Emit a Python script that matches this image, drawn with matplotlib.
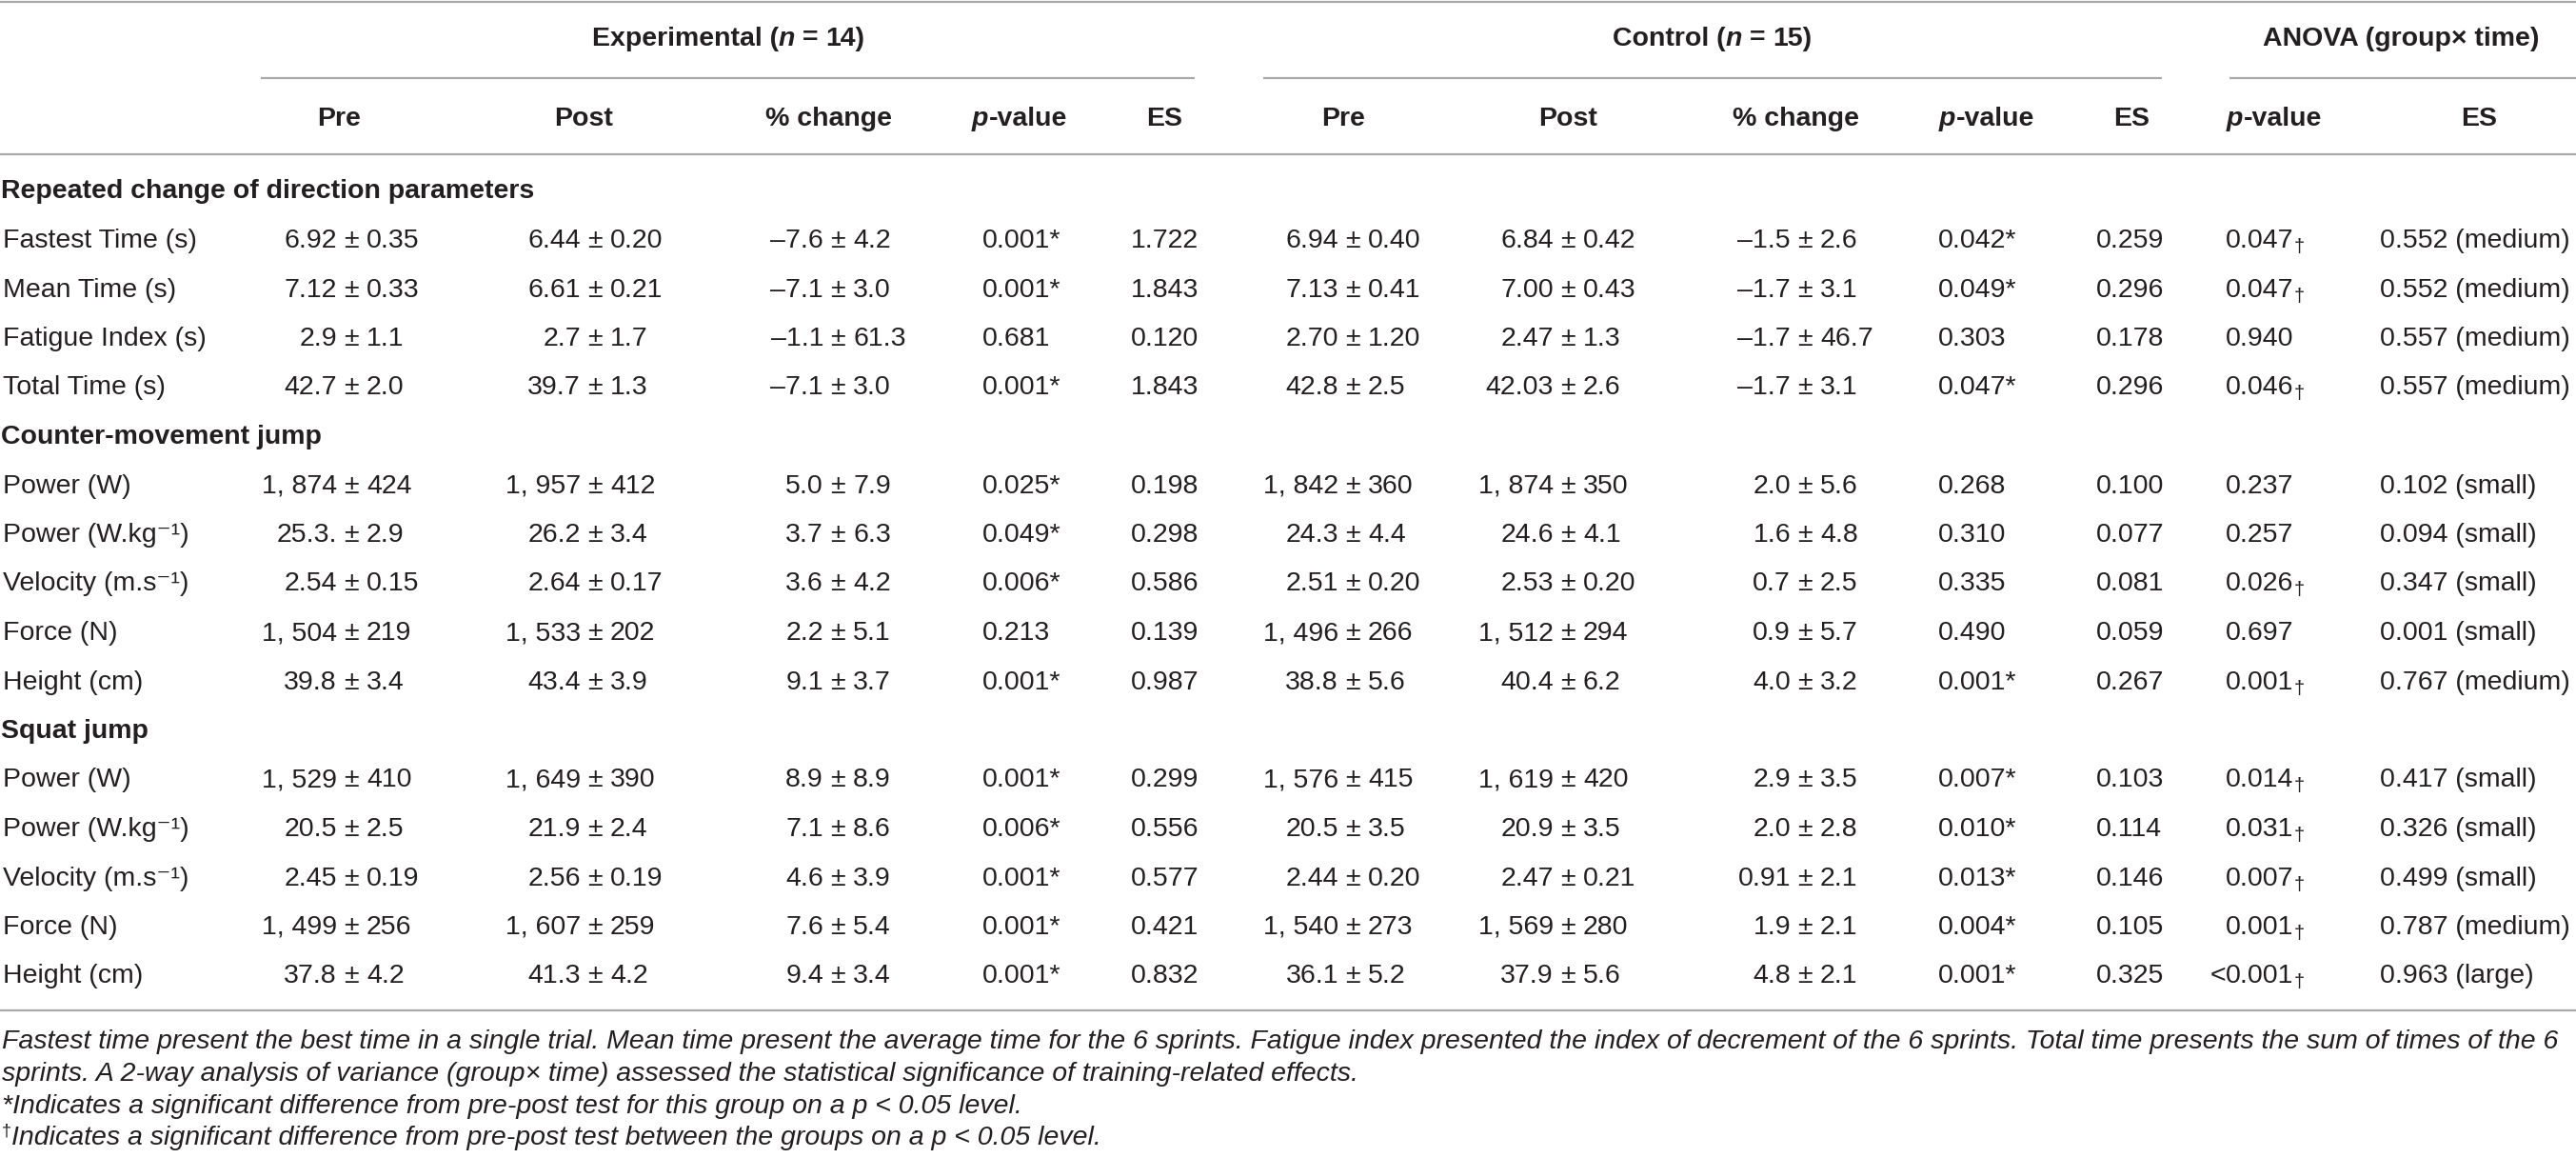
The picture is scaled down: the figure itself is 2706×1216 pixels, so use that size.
import matplotlib
matplotlib.use('Agg')
import matplotlib.pyplot as plt

plt.rcParams['font.family'] = ['Liberation Sans', 'DejaVu Sans']

# ---- table content ----
sections = ['Repeated change of direction parameters', 'Counter-movement jump', 'Squat jump']
section_sizes = [4, 5, 5]
row_labels = ['Fastest Time (s)', 'Mean Time (s)', 'Fatigue Index (s)', 'Total Time (s)',
              'Power (W)', 'Power (W.kg⁻¹)', 'Velocity (m.s⁻¹)', 'Force (N)', 'Height (cm)',
              'Power (W)', 'Power (W.kg⁻¹)', 'Velocity (m.s⁻¹)', 'Force (N)', 'Height (cm)']

exp_pre = ['6.92 ± 0.35', '7.12 ± 0.33', '2.9 ± 1.1', '42.7 ± 2.0', '1, 874 ± 424', '25.3. ± 2.9',
           '2.54 ± 0.15', '1, 504 ± 219', '39.8 ± 3.4', '1, 529 ± 410', '20.5 ± 2.5', '2.45 ± 0.19',
           '1, 499 ± 256', '37.8 ± 4.2']
exp_post = ['6.44 ± 0.20', '6.61 ± 0.21', '2.7 ± 1.7', '39.7 ± 1.3', '1, 957 ± 412', '26.2 ± 3.4',
            '2.64 ± 0.17', '1, 533 ± 202', '43.4 ± 3.9', '1, 649 ± 390', '21.9 ± 2.4', '2.56 ± 0.19',
            '1, 607 ± 259', '41.3 ± 4.2']
exp_change = ['–7.6 ± 4.2', '–7.1 ± 3.0', '–1.1 ± 61.3', '–7.1 ± 3.0', '5.0 ± 7.9', '3.7 ± 6.3',
              '3.6 ± 4.2', '2.2 ± 5.1', '9.1 ± 3.7', '8.9 ± 8.9', '7.1 ± 8.6', '4.6 ± 3.9',
              '7.6 ± 5.4', '9.4 ± 3.4']
exp_p = ['0.001*', '0.001*', '0.681', '0.001*', '0.025*', '0.049*', '0.006*', '0.213', '0.001*',
         '0.001*', '0.006*', '0.001*', '0.001*', '0.001*']
exp_es = ['1.722', '1.843', '0.120', '1.843', '0.198', '0.298', '0.586', '0.139', '0.987',
          '0.299', '0.556', '0.577', '0.421', '0.832']

ctl_pre = ['6.94 ± 0.40', '7.13 ± 0.41', '2.70 ± 1.20', '42.8 ± 2.5', '1, 842 ± 360', '24.3 ± 4.4',
           '2.51 ± 0.20', '1, 496 ± 266', '38.8 ± 5.6', '1, 576 ± 415', '20.5 ± 3.5', '2.44 ± 0.20',
           '1, 540 ± 273', '36.1 ± 5.2']
ctl_post = ['6.84 ± 0.42', '7.00 ± 0.43', '2.47 ± 1.3', '42.03 ± 2.6', '1, 874 ± 350', '24.6 ± 4.1',
            '2.53 ± 0.20', '1, 512 ± 294', '40.4 ± 6.2', '1, 619 ± 420', '20.9 ± 3.5', '2.47 ± 0.21',
            '1, 569 ± 280', '37.9 ± 5.6']
ctl_change = ['–1.5 ± 2.6', '–1.7 ± 3.1', '–1.7 ± 46.7', '–1.7 ± 3.1', '2.0 ± 5.6', '1.6 ± 4.8',
              '0.7 ± 2.5', '0.9 ± 5.7', '4.0 ± 3.2', '2.9 ± 3.5', '2.0 ± 2.8', '0.91 ± 2.1',
              '1.9 ± 2.1', '4.8 ± 2.1']
ctl_p = ['0.042*', '0.049*', '0.303', '0.047*', '0.268', '0.310', '0.335', '0.490', '0.001*',
         '0.007*', '0.010*', '0.013*', '0.004*', '0.001*']
ctl_es = ['0.259', '0.296', '0.178', '0.296', '0.100', '0.077', '0.081', '0.059', '0.267',
          '0.103', '0.114', '0.146', '0.105', '0.325']

anova_p = ['0.047†', '0.047†', '0.940', '0.046†', '0.237', '0.257', '0.026†', '0.697', '0.001†',
           '0.014†', '0.031†', '0.007†', '0.001†', '<0.001†']
anova_es = ['0.552 (medium)', '0.552 (medium)', '0.557 (medium)', '0.557 (medium)', '0.102 (small)',
            '0.094 (small)', '0.347 (small)', '0.001 (small)', '0.767 (medium)', '0.417 (small)',
            '0.326 (small)', '0.499 (small)', '0.787 (medium)', '0.963 (large)']

col_headers = ['Pre', 'Post', '% change', 'p-value', 'ES',
               'Pre', 'Post', '% change', 'p-value', 'ES', 'p-value', 'ES']
groups = [('Experimental (', '14)'), ('Control (', '15)')]

footnotes = [
    'Fastest time present the best time in a single trial. Mean time present the average time for the 6 sprints. '
    'Fatigue index presented the index of decrement of the 6 sprints. Total time presents the sum of times of the 6',
    'sprints. A 2-way analysis of variance (group× time) assessed the statistical significance of training-related effects.',
    '*Indicates a significant difference from pre-post test for this group on a p < 0.05 level.',
    'Indicates a significant difference from pre-post test between the groups on a p < 0.05 level.',
]

# ---- layout (pixels) ----
W, H = 2706, 1216
FS = 20.5
TXT = '#231f20'
LINE = '#a9a9a9'

fig = plt.figure(figsize=(W / 100, H / 100), dpi=100)
ax = fig.add_axes([0, 0, 1, 1])
ax.set_xlim(0, W)
ax.set_ylim(H, 0)
ax.axis('off')
fig.canvas.draw()
rend = fig.canvas.get_renderer()


def width_of(s, **kw):
    t = ax.text(0, 0, s, **kw)
    w = t.get_window_extent(renderer=rend).width
    t.remove()
    return w


def pieces(x, y, parts, ha='left'):
    # parts: (text, kwargs, dy); ' ' means a plain space gap
    ws = []
    for s, kw, dy in parts:
        if s == ' ':
            ws.append(width_of('a a', **kw) - width_of('aa', **kw))
        else:
            ws.append(width_of(s, **kw))
    total = sum(ws)
    cur = x if ha == 'left' else (x - total / 2 if ha == 'center' else x - total)
    for (s, kw, dy), w in zip(parts, ws):
        if s != ' ':
            ax.text(cur, y + dy, s, va='baseline', ha='left', color=TXT, **kw)
        cur += w


def pm(x, y, s):
    a, b = s.split(' ± ')
    ax.text(x - 15, y, a, ha='right', va='baseline', fontsize=FS, color=TXT)
    ax.text(x, y, '±', ha='center', va='baseline', fontsize=FS, color=TXT)
    ax.text(x + 16, y, b, ha='left', va='baseline', fontsize=FS, color=TXT)


def pval(x, y, s):
    if s.startswith('<'):
        ax.text(x, y, '<', ha='right', va='baseline', fontsize=FS, color=TXT)
        s = s[1:]
    if s.endswith('†'):
        pieces(x, y, [(s[:-1], dict(fontsize=FS), 0), ('†', dict(fontsize=FS * 0.7), 5)])
    else:
        ax.text(x, y, s, ha='left', va='baseline', fontsize=FS, color=TXT)


def hline(y, x0, x1):
    ax.plot([x0, x1], [y, y], color=LINE, lw=1.6, solid_capstyle='butt')


B = dict(fontsize=FS, fontweight='bold')
BI = dict(fontsize=FS, fontweight='bold', fontstyle='italic')
BASE = 10.5  # centre -> baseline

# rules
hline(1.5, 0, W)
hline(82, 274, 1255)
hline(82, 1327, 2271)
hline(82, 2342, W)
hline(162, 0, W)
hline(1061, 0, W)

# group headers
for (left, right), cx in zip(groups, [765, 1799]):
    pieces(cx, 37 + BASE, [(left, B, 0), ('n', BI, 0), (' ', B, 0), ('=', B, 0),
                           (' ', B, 0), (right, B, 0)], ha='center')
ax.text(2522, 37 + BASE, 'ANOVA (group× time)', ha='center', va='baseline', color=TXT, **B)

# column headers
head_x = [356, 613, 870, 1071, 1223, 1411, 1647, 1886, 2087, 2239, 2389, 2604]
for h, cx in zip(col_headers, head_x):
    if h == 'p-value':
        pieces(cx, 122 + BASE, [('p', BI, 0), ('-value', B, 0)], ha='center')
    else:
        ax.text(cx, 122 + BASE, h, ha='center', va='baseline', color=TXT, **B)

# body
y0, step = 198, 51.5
k = 0
line = 0
for sec, n in zip(sections, section_sizes):
    ax.text(1, y0 + line * step + BASE, sec, ha='left', va='baseline', color=TXT, **B)
    line += 1
    for _ in range(n):
        y = y0 + line * step + BASE
        ax.text(3, y, row_labels[k], ha='left', va='baseline', fontsize=FS, color=TXT)
        pm(369, y, exp_pre[k])
        pm(625, y, exp_post[k])
        pm(880, y, exp_change[k])
        pval(1032, y, exp_p[k])
        ax.text(1188, y, exp_es[k], ha='left', va='baseline', fontsize=FS, color=TXT)
        pm(1421, y, ctl_pre[k])
        pm(1647, y, ctl_post[k])
        pm(1896, y, ctl_change[k])
        pval(2036, y, ctl_p[k])
        ax.text(2202, y, ctl_es[k], ha='left', va='baseline', fontsize=FS, color=TXT)
        pval(2338, y, anova_p[k])
        ax.text(2500, y, anova_es[k], ha='left', va='baseline', fontsize=FS, color=TXT)
        k += 1
        line += 1

# footnotes
FI = dict(fontsize=20.5, fontstyle='italic')
FB = 10
fy = [1091, 1125, 1159, 1192]
for i, s in enumerate(footnotes[:3]):
    ax.text(2, fy[i] + FB, s, ha='left', va='baseline', color=TXT, **FI)
pieces(2, fy[3] + FB, [('†', dict(fontsize=13), -10), (footnotes[3], FI, 0)])

fig.savefig('out.png', dpi=100, facecolor='white')
